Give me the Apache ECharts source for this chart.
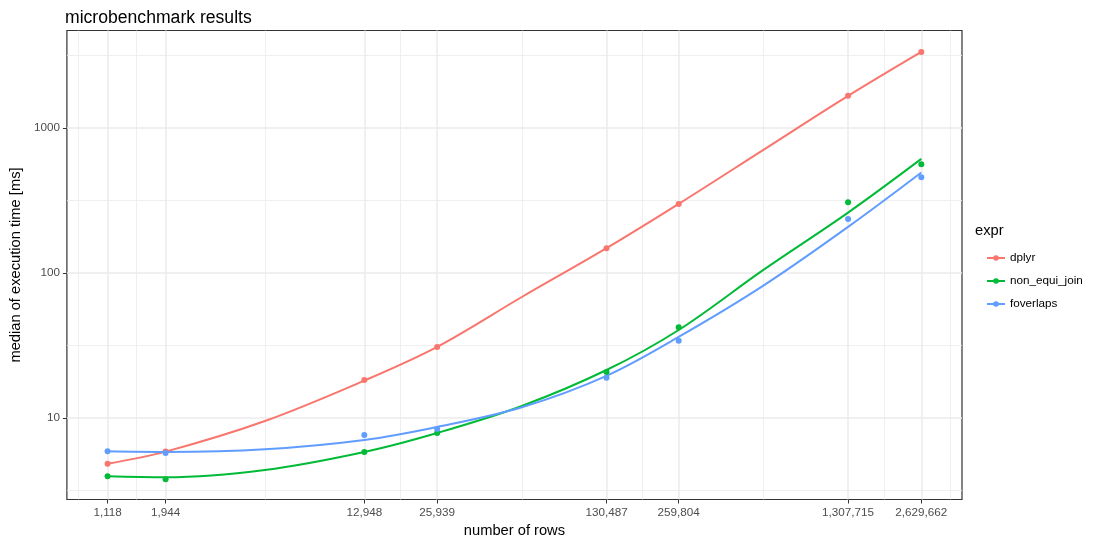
<!DOCTYPE html>
<html>
<head>
<meta charset="utf-8">
<script src="https://cdn.jsdelivr.net/npm/echarts@6/dist/echarts.min.js"></script>
<style>
html,body{margin:0;padding:0;background:#fff;}
#chart{width:1105px;height:544px;}
</style>
</head>
<body>
<div id="chart"></div>
<script>
// ---- data ----
const rows = [1118, 1944, 12948, 25939, 130487, 259804, 1307715, 2629662];
const dplyr = [4.84, 5.86, 18.3, 30.9, 148, 299, 1662, 3330];
const nonEquiJoin = [3.96, 3.78, 5.83, 7.88, 20.7, 42.2, 307, 562];
const foverlaps = [5.89, 5.74, 7.63, 8.4, 18.96, 34.0, 235, 457];

// fitted (smoothed) curves
const fitX = [1118, 1944, 5017, 12948, 25939, 58179, 130487, 259804, 582890, 1307715, 2629662];
const dplyrFit = [4.84, 5.86, 9.53, 18.1, 30.9, 68.2, 148, 299, 705, 1662, 3340];
const nonEquiJoinFit = [3.96, 3.90, 4.38, 5.83, 7.88, 12.1, 21.4, 40.4, 104.9, 260.6, 611];
const foverlapsFit = [5.89, 5.83, 6.08, 7.05, 8.67, 11.85, 19.5, 36.2, 81.7, 207.5, 492];

const seriesNames = ['dplyr', 'non_equi_join', 'foverlaps'];
const colors = ['#F8766D', '#00BA38', '#619CFF'];
const yTicks = [10, 100, 1000];

// ---- axis ranges (ggplot-style 5% expansion on log scale) ----
const lx0 = Math.log10(rows[0]), lx1 = Math.log10(rows[rows.length - 1]);
const xExp = 0.05 * (lx1 - lx0);
const xMin = Math.pow(10, lx0 - xExp), xMax = Math.pow(10, lx1 + xExp);
const yMin = 2.74, yMax = 4690;

// minor grid positions: log-midpoints of breaks, extended one step (ggplot rule)
function minorBreaks(b) {
  const lb = b.map(Math.log10);
  const d = lb[1] - lb[0];
  const ext = [lb[0] - d].concat(lb, [lb[lb.length - 1] + d]);
  const out = [];
  for (let i = 0; i < ext.length - 1; i++) out.push(Math.pow(10, (ext[i] + ext[i + 1]) / 2));
  return out;
}
const xMinor = minorBreaks(rows).filter(v => v > xMin && v < xMax);
const yMinor = minorBreaks(yTicks).filter(v => v > yMin && v < yMax);

const FONT = "'Liberation Sans', Arial, sans-serif";
const gridColor = '#EBEBEB';

const gridLines = [];
xMinor.forEach(v => gridLines.push({ xAxis: v, lineStyle: { width: 0.8, color: gridColor, type: 'solid' } }));
yMinor.forEach(v => gridLines.push({ yAxis: v, lineStyle: { width: 0.8, color: gridColor, type: 'solid' } }));
rows.forEach(v => gridLines.push({ xAxis: v, lineStyle: { width: 1.5, color: gridColor, type: 'solid' } }));
yTicks.forEach(v => gridLines.push({ yAxis: v, lineStyle: { width: 1.5, color: gridColor, type: 'solid' } }));

const pointSets = [dplyr, nonEquiJoin, foverlaps];
const fitSets = [dplyrFit, nonEquiJoinFit, foverlapsFit];

const series = [{
  name: '__grid',
  type: 'scatter',
  data: [[rows[0], 10]],
  symbolSize: 0,
  silent: true,
  z: 0,
  markLine: {
    z: 0,
    silent: true,
    symbol: 'none',
    label: { show: false },
    animation: false,
    lineStyle: { type: 'solid' },
    data: gridLines
  }
}];

seriesNames.forEach((n, i) => {
  series.push({
    name: n,
    type: 'line',
    data: fitX.map((x, j) => [x, fitSets[i][j]]),
    smooth: 0.35,
    symbol: 'circle',
    symbolSize: 6,
    showSymbol: false,
    lineStyle: { width: 2, color: colors[i] },
    itemStyle: { color: colors[i] },
    z: 4,
    animation: false
  });
});
seriesNames.forEach((n, i) => {
  series.push({
    name: n,
    type: 'scatter',
    data: rows.map((x, j) => [x, pointSets[i][j]]),
    symbol: 'circle',
    symbolSize: 6,
    itemStyle: { color: colors[i], opacity: 1, borderWidth: 0 },
    z: 5,
    animation: false
  });
});

const chart = echarts.init(document.getElementById('chart'));
chart.setOption({
  animation: false,
  backgroundColor: '#ffffff',
  textStyle: { fontFamily: FONT },
  title: [{
    text: 'microbenchmark results',
    left: 60,
    top: 4,
    textStyle: { fontFamily: FONT, fontSize: 17.6, fontWeight: 'normal', color: '#000' }
  }, {
    text: 'expr',
    left: 970,
    top: 218,
    textStyle: { fontFamily: FONT, fontSize: 14.7, fontWeight: 'normal', color: '#000' }
  }],
  legend: {
    data: seriesNames,
    orient: 'vertical',
    left: 981,
    top: 247,
    itemWidth: 18,
    itemHeight: 7,
    itemGap: 11,
    textStyle: { fontFamily: FONT, fontSize: 11.7, color: '#000' }
  },
  grid: {
    left: 64,
    right: 143,
    top: 30.5,
    bottom: 44.5,
    show: true,
    borderColor: '#333333',
    borderWidth: 1.2,
    backgroundColor: 'transparent',
    containLabel: false
  },
  xAxis: {
    type: 'log',
    logBase: 10,
    min: xMin,
    max: xMax,
    name: 'number of rows',
    nameLocation: 'middle',
    nameGap: 24,
    nameTextStyle: { fontFamily: FONT, fontSize: 14.7, color: '#000' },
    axisLine: { show: false },
    splitLine: { show: false },
    minorSplitLine: { show: false },
    axisTick: { show: true, length: 4, lineStyle: { color: '#333333', width: 1 }, customValues: rows },
    axisLabel: {
      customValues: rows,
      margin: 7,
      fontFamily: FONT, fontSize: 11.7, color: '#4D4D4D',
      formatter: v => Math.round(v).toLocaleString('en-US')
    }
  },
  yAxis: {
    type: 'log',
    logBase: 10,
    min: yMin,
    max: yMax,
    name: 'median of execution time [ms]',
    nameLocation: 'middle',
    nameGap: 37,
    nameTextStyle: { fontFamily: FONT, fontSize: 14.7, color: '#000' },
    axisLine: { show: false },
    splitLine: { show: false },
    minorSplitLine: { show: false },
    axisTick: { show: true, length: 4, lineStyle: { color: '#333333', width: 1 }, customValues: yTicks },
    axisLabel: {
      customValues: yTicks,
      margin: 7,
      fontFamily: FONT, fontSize: 11.7, color: '#4D4D4D',
      formatter: v => String(Math.round(v))
    }
  },
  series: series
});
</script>
</body>
</html>
